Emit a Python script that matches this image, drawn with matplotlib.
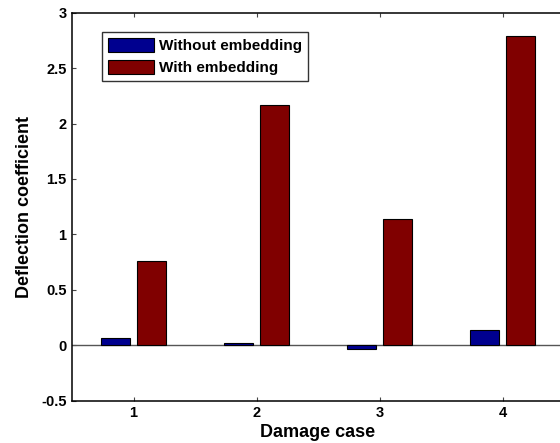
import matplotlib
matplotlib.use("Agg")
import matplotlib.pyplot as plt
import numpy as np

plt.rcParams['font.family'] = ['Liberation Sans', 'DejaVu Sans']
plt.rcParams['font.weight'] = 'bold'

categories = [1, 2, 3, 4]
without_embedding = [0.063, 0.02, -0.035, 0.135]
with_embedding = [0.76, 2.17, 1.14, 2.79]
series_labels = ["Without embedding", "With embedding"]
yticks = [-0.5, 0, 0.5, 1, 1.5, 2, 2.5, 3]
ytick_labels = ["-0.5", "0", "0.5", "1", "1.5", "2", "2.5", "3"]

fig = plt.figure(figsize=(5.6, 4.43), dpi=100)
ax = fig.add_axes([72/560, 42.3/443, 492/560, 388/443])

x = np.array(categories, dtype=float)
w = 0.236
off = 0.143
ax.bar(x - off, without_embedding, w, color='#00008F', edgecolor='black', linewidth=0.8,
       label=series_labels[0], zorder=3)
ax.bar(x + off, with_embedding, w, color='#800000', edgecolor='black', linewidth=0.8,
       label=series_labels[1], zorder=3)
ax.axhline(0, color='#555555', linewidth=1.0, zorder=2)

ax.set_xlim(0.5, 4.5)
ax.set_ylim(-0.5, 3)
ax.set_xticks(categories)
ax.set_xticklabels([str(c) for c in categories], fontsize=10.5, fontweight='bold')
ax.set_yticks(yticks)
ax.set_yticklabels(ytick_labels, fontsize=10.5, fontweight='bold')
ax.tick_params(direction='in', length=3, width=0.8, color='#444444', top=True, right=True, pad=4)
for s in ax.spines.values():
    s.set_linewidth(1.1)

ax.set_xlabel("Damage case", fontsize=13, fontweight='bold', labelpad=3)
ax.set_ylabel("Deflection coefficient", fontsize=13, fontweight='bold', labelpad=6)

leg = ax.legend(loc='upper left', bbox_to_anchor=(30/492, 1 - 19.5/388), fontsize=11,
                frameon=True, fancybox=False, edgecolor='black', borderaxespad=0,
                handlelength=3.0, handleheight=1.0, handletextpad=0.33,
                borderpad=0.4, labelspacing=0.45)
leg.get_frame().set_linewidth(1.0)
for t in leg.get_texts():
    t.set_fontweight('bold')

fig.savefig("out.png", dpi=100)
